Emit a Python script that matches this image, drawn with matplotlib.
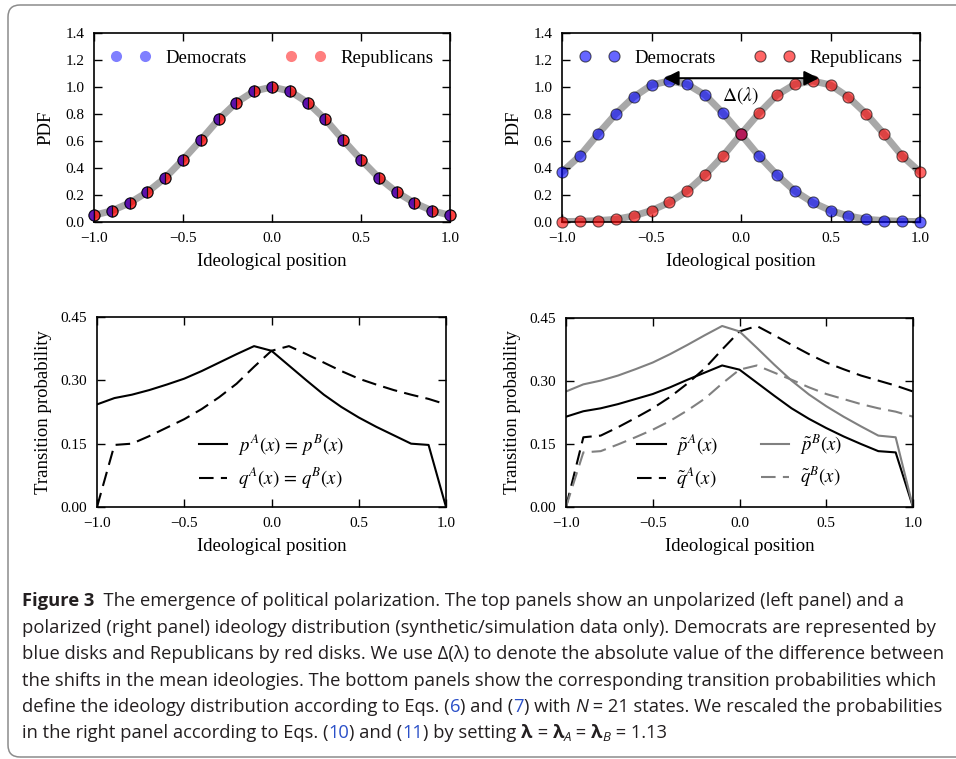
import matplotlib
matplotlib.use('Agg')
import matplotlib.pyplot as plt
from matplotlib import font_manager
from matplotlib.lines import Line2D
from matplotlib.patches import FancyBboxPatch

# ideological positions of the N = 21 states
positions = [-1.0, -0.9, -0.8, -0.7, -0.6, -0.5, -0.4, -0.3, -0.2, -0.1, 0.0,
             0.1, 0.2, 0.3, 0.4, 0.5, 0.6, 0.7, 0.8, 0.9, 1.0]

# top left: unpolarized distribution (both parties the same)
dem_unpol = [0.05, 0.083, 0.141, 0.222, 0.327, 0.462, 0.607, 0.760, 0.885, 0.970, 1.0,
             0.970, 0.885, 0.760, 0.607, 0.462, 0.327, 0.222, 0.141, 0.083, 0.05]
rep_unpol = [0.05, 0.083, 0.141, 0.222, 0.327, 0.462, 0.607, 0.760, 0.885, 0.970, 1.0,
             0.970, 0.885, 0.760, 0.607, 0.462, 0.327, 0.222, 0.141, 0.083, 0.05]

# top right: polarized distribution
dem_pol = [0.37, 0.49, 0.65, 0.80, 0.925, 1.015, 1.045, 1.02, 0.94, 0.805, 0.65,
           0.49, 0.35, 0.23, 0.145, 0.085, 0.045, 0.02, 0.01, 0.005, 0.003]
rep_pol = [0.003, 0.005, 0.01, 0.02, 0.045, 0.085, 0.145, 0.23, 0.35, 0.49, 0.65,
           0.805, 0.94, 1.02, 1.045, 1.015, 0.925, 0.80, 0.65, 0.49, 0.37]
shift_left, shift_right, shift_y = -0.43, 0.435, 1.065

# bottom left: transition probabilities
p_prob = [0.243, 0.258, 0.266, 0.277, 0.290, 0.304, 0.322, 0.342, 0.362, 0.381, 0.370,
          0.335, 0.300, 0.266, 0.237, 0.212, 0.190, 0.170, 0.150, 0.147, 0.0]
q_prob = [0.0, 0.147, 0.150, 0.168, 0.188, 0.208, 0.232, 0.260, 0.292, 0.332, 0.370,
          0.381, 0.362, 0.342, 0.322, 0.304, 0.290, 0.277, 0.266, 0.256, 0.243]

# bottom right: rescaled transition probabilities
pA_tilde = [0.215, 0.228, 0.235, 0.245, 0.257, 0.269, 0.285, 0.303, 0.320, 0.337, 0.327,
            0.296, 0.265, 0.235, 0.210, 0.188, 0.168, 0.150, 0.133, 0.130, 0.0]
pB_tilde = [0.275, 0.292, 0.301, 0.313, 0.328, 0.344, 0.364, 0.386, 0.409, 0.431, 0.418,
            0.379, 0.339, 0.301, 0.268, 0.240, 0.215, 0.192, 0.170, 0.166, 0.0]
qA_tilde = [0.0, 0.166, 0.170, 0.190, 0.212, 0.235, 0.262, 0.294, 0.330, 0.375, 0.418,
            0.431, 0.409, 0.386, 0.364, 0.344, 0.328, 0.313, 0.301, 0.289, 0.275]
qB_tilde = [0.0, 0.130, 0.133, 0.149, 0.166, 0.184, 0.205, 0.230, 0.258, 0.294, 0.327,
            0.337, 0.320, 0.303, 0.285, 0.269, 0.257, 0.245, 0.235, 0.227, 0.215]

W, H = 956, 759
plt.rcParams['font.family'] = ['Liberation Serif', 'DejaVu Serif']
plt.rcParams['mathtext.fontset'] = 'stix'
plt.rcParams['axes.linewidth'] = 1.2

fig = plt.figure(figsize=(W / 100, H / 100), dpi=100)

LABEL = 13.5
TICK = 11
MS = 8
dash = (0, (7, 3.5))


def make_ax(l, t, r, b):
    ax = fig.add_axes([l / W, 1 - b / H, (r - l) / W, (b - t) / H])
    ax.tick_params(direction='in', top=True, right=True, length=6, width=1,
                   labelsize=TICK, pad=7)
    ax.set_xlim(-1, 1)
    ax.set_xticks([-1.0, -0.5, 0.0, 0.5, 1.0])
    ax.set_xlabel('Ideological position', fontsize=LABEL, labelpad=6)
    return ax


def pdf_panel(ax):
    ax.set_ylim(0, 1.4)
    ax.set_yticks([0.0, 0.2, 0.4, 0.6, 0.8, 1.0, 1.2, 1.4])
    ax.set_ylabel('PDF', fontsize=LABEL, labelpad=8)


# ---------------- top left
ax1 = make_ax(94, 33, 450, 222)
pdf_panel(ax1)
ax1.plot(positions, dem_unpol, color='#a8a8a8', lw=5, zorder=1)
ax1.plot(positions, rep_unpol, ls='none', marker='o', ms=MS, mfc='r', mec='k',
         mew=0.8, alpha=0.75, zorder=3, clip_on=False)
ax1.plot(positions, dem_unpol, ls='none', marker='o', ms=MS, mfc='b', mec='k',
         mew=0.8, alpha=0.6, fillstyle='left', zorder=4, clip_on=False)
h_dem = Line2D([], [], ls='none', marker='o', ms=MS, mfc='b', mec='none', alpha=0.5)
h_rep = Line2D([], [], ls='none', marker='o', ms=MS, mfc='r', mec='none', alpha=0.5)
ax1.legend([h_dem, h_rep], ['Democrats', 'Republicans'], loc='upper center', ncol=2,
           numpoints=2, frameon=False, fontsize=LABEL, handlelength=2.1,
           handletextpad=0.8, columnspacing=2.1)

# ---------------- top right
ax2 = make_ax(562, 33, 920, 222)
pdf_panel(ax2)
ax2.plot(positions, dem_pol, color='#a8a8a8', lw=5, zorder=1)
ax2.plot(positions, rep_pol, color='#a8a8a8', lw=5, zorder=1)
l_dem, = ax2.plot(positions, dem_pol, ls='none', marker='o', ms=MS, mfc='b', mec='k',
                  mew=0.8, alpha=0.6, zorder=3, clip_on=False)
l_rep, = ax2.plot(positions, rep_pol, ls='none', marker='o', ms=MS, mfc='r', mec='k',
                  mew=0.8, alpha=0.6, zorder=4, clip_on=False)
ax2.legend([l_dem, l_rep], ['Democrats', 'Republicans'], loc='upper center', ncol=2,
           numpoints=2, frameon=False, fontsize=LABEL, handlelength=2.1,
           handletextpad=0.8, columnspacing=2.1)
ax2.annotate('', xy=(shift_left, shift_y), xytext=(shift_right, shift_y),
             arrowprops=dict(arrowstyle='<|-|>', color='k', lw=1.5,
                             mutation_scale=22, shrinkA=0, shrinkB=0), zorder=5)
ax2.text(0.0, 0.94, r'$\Delta(\lambda)$', fontsize=14, ha='center', va='center')


def prob_panel(ax):
    ax.set_ylim(0, 0.45)
    ax.set_yticks([0.0, 0.15, 0.30, 0.45])
    ax.set_yticklabels(['0.00', '0.15', '0.30', '0.45'])
    ax.set_ylabel('Transition probability', fontsize=LABEL, labelpad=6)


# ---------------- bottom left
ax3 = make_ax(97, 317, 446, 507)
prob_panel(ax3)
ax3.plot(positions, p_prob, color='k', lw=1.5, label=r'$p^A(x)\,=\,p^B(x)$')
ax3.plot(positions, q_prob, color='k', lw=1.5, ls=dash, label=r'$q^A(x)\,=\,q^B(x)$')
ax3.legend(loc='lower center', frameon=False, fontsize=LABEL, handlelength=1.5,
           handletextpad=0.55, labelspacing=0.45)

# ---------------- bottom right
ax4 = make_ax(566, 318, 913, 507)
prob_panel(ax4)
g = '#808080'
a1, = ax4.plot(positions, pA_tilde, color='k', lw=1.5)
a2, = ax4.plot(positions, qA_tilde, color='k', lw=1.5, ls=dash)
b1, = ax4.plot(positions, pB_tilde, color=g, lw=1.5)
b2, = ax4.plot(positions, qB_tilde, color=g, lw=1.5, ls=dash)
ax4.legend([a1, a2, b1, b2],
           [r'$\tilde{p}^A(x)$', r'$\tilde{q}^A(x)$', r'$\tilde{p}^B(x)$', r'$\tilde{q}^B(x)$'],
           loc='lower center', ncol=2, frameon=False, fontsize=LABEL, handlelength=1.5,
           handletextpad=0.55, columnspacing=2.3, labelspacing=0.45)

# ---------------- caption box
fig.add_artist(FancyBboxPatch((8, 2), 980, 752, boxstyle='round,pad=0,rounding_size=12',
                              transform=None, fc='none', ec='#8c8c8c', lw=1.1))

cap_font = 'Open Sans'
for name in ['Liberation Sans Narrow', 'Open Sans']:
    try:
        font_manager.findfont(font_manager.FontProperties(family=name),
                              fallback_to_default=False)
        cap_font = name
        break
    except Exception:
        pass

ink = '#231f20'
link = '#2b50c8'
N = {}
B = {'weight': 'bold'}
L = {'color': link}
I = {'style': 'italic'}
SUB = {'style': 'italic', 'scale': 0.72, 'dy': 3}

lines = [
    [('Figure 3', B), ('  The emergence of political polarization. The top panels show an unpolarized (left panel) and a', N)],
    [('polarized (right panel) ideology distribution (synthetic/simulation data only). Democrats are represented by', N)],
    [('blue disks and Republicans by red disks. We use \u0394(\u03bb) to denote the absolute value of the difference between', N)],
    [('the shifts in the mean ideologies. The bottom panels show the corresponding transition probabilities which', N)],
    [('define the ideology distribution according to Eqs. (', N), ('6', L), (') and (', N), ('7', L),
     (') with ', N), ('N', I), (' = 21 states. We rescaled the probabilities', N)],
    [('in the right panel according to Eqs. (', N), ('10', L), (') and (', N), ('11', L),
     (') by setting ', N), ('\u03bb', B), (' = ', N), ('\u03bb', B), ('A', SUB), (' = ', N),
     ('\u03bb', B), ('B', SUB), (' = 1.13', N)],
]
baselines = [606, 633, 659, 686, 712, 738]

renderer = fig.canvas.get_renderer()
probe = fig.text(0, 0, lines[2][0][0], family=cap_font, fontsize=10)
cap_size = 10 * 925 / probe.get_window_extent(renderer).width
probe.remove()

for segs, base in zip(lines, baselines):
    xp = 22
    for s, kw in segs:
        kw = dict(kw)
        scale = kw.pop('scale', 1)
        dy = kw.pop('dy', 0)
        color = kw.pop('color', ink)
        t = fig.text(xp / W, 1 - (base + dy) / H, s, family=cap_font,
                     fontsize=cap_size * scale, color=color, va='baseline', **kw)
        xp += t.get_window_extent(renderer).width

fig.savefig('out.png', dpi=100)
